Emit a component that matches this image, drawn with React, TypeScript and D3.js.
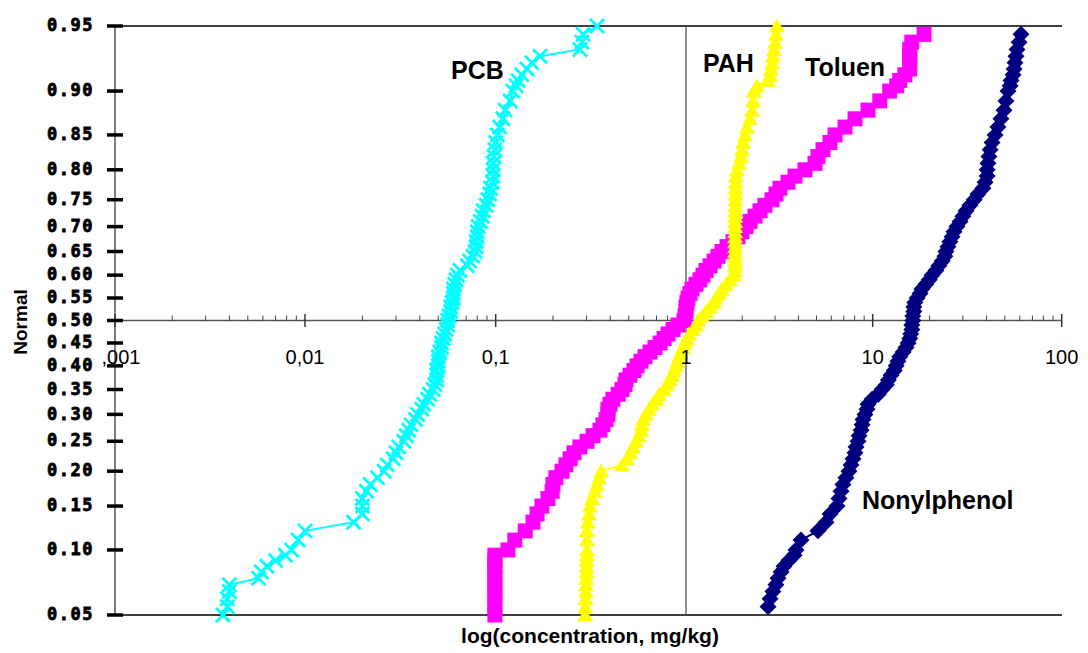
import React, { useRef, useEffect } from 'react';
import * as d3 from 'd3';

// cumulative probability (plotting position) of each ranked sample
const probLevels = [
  0.05, 0.055, 0.06, 0.065, 0.07, 0.075, 0.08, 0.085, 0.09, 0.095,
  0.10, 0.11, 0.12, 0.13, 0.14, 0.15, 0.16, 0.17, 0.18, 0.19,
  0.20, 0.21, 0.22, 0.23, 0.24, 0.25, 0.26, 0.27, 0.28, 0.29,
  0.30, 0.31, 0.32, 0.33, 0.34, 0.35, 0.36, 0.37, 0.38, 0.39,
  0.40, 0.41, 0.42, 0.43, 0.44, 0.45, 0.46, 0.47, 0.48, 0.49,
  0.50, 0.51, 0.52, 0.53, 0.54, 0.55, 0.56, 0.57, 0.58, 0.59,
  0.60, 0.61, 0.62, 0.63, 0.64, 0.65, 0.66, 0.67, 0.68, 0.69,
  0.70, 0.71, 0.72, 0.73, 0.74, 0.75, 0.76, 0.77, 0.78, 0.79,
  0.80, 0.81, 0.82, 0.83, 0.84, 0.85, 0.86, 0.87, 0.88, 0.89,
  0.90, 0.905, 0.91, 0.915, 0.92, 0.925, 0.93, 0.935, 0.94, 0.945, 0.95,
];

// concentrations, mg/kg (null = no sample at that level)
const nonylphenol = [
  null, 2.75, 2.82, 2.92, 3.03, 3.11, 3.23, 3.35, 3.56, 3.79,
  3.88, 4.13, 5.09, 5.62, 5.91, 6.44, 6.60, 6.77, 6.93, 7.19,
  7.46, 7.65, 7.84, 8.04, 8.14, 8.34, 8.45, 8.66, 8.77, 8.87,
  9.09, 9.32, 9.44, 9.92, 10.7, 11.2, 11.8, 12.1, 12.5, 13.0,
  13.3, 13.6, 13.9, 14.5, 15.0, 15.4, 15.7, 15.9, 16.1, 16.1,
  16.3, 16.3, 16.5, 16.5, 16.7, 17.2, 17.8, 18.2, 19.1, 19.9,
  20.6, 21.6, 22.4, 23.3, 24.1, 24.4, 25.0, 25.6, 26.3, 26.9,
  27.9, 29.0, 30.0, 31.2, 32.7, 34.4, 36.1, 38.3, 39.3, 40.3,
  40.3, 40.7, 41.2, 41.8, 42.8, 44.4, 46.0, 47.7, 49.5, 50.7,
  52.0, 53.3, 53.9, 55.3, 56.0, 56.6, 57.3, 58.0, 59.5, 60.9, null,
];

const toluen = [
  0.099, 0.099, 0.099, 0.099, 0.099, 0.099, 0.099, 0.099, 0.099, 0.099,
  0.116, 0.126, 0.143, 0.157, 0.165, 0.175, 0.188, 0.198, 0.200, 0.207,
  0.223, 0.234, 0.246, 0.258, 0.277, 0.302, 0.325, 0.353, 0.366, 0.380,
  0.389, 0.389, 0.399, 0.413, 0.440, 0.461, 0.478, 0.484, 0.508, 0.533,
  0.553, 0.580, 0.609, 0.647, 0.687, 0.731, 0.767, 0.805, 0.855, 0.908,
  0.977, 0.988, 1.000, 1.000, 1.012, 1.025, 1.050, 1.077, 1.131, 1.189,
  1.233, 1.280, 1.345, 1.413, 1.484, 1.559, 1.658, 1.786, 1.899, 1.995,
  2.096, 2.202, 2.342, 2.491, 2.649, 2.888, 3.034, 3.188, 3.518, 3.835,
  4.339, 4.909, 5.093, 5.417, 5.906, 6.284, 7.107, 8.04, 9.44, 10.9,
  12.3, 13.4, 13.9, 14.8, 15.7, 15.7, 15.7, 15.7, 16.1, 18.7, null,
];

const pah = [
  0.295, 0.296, 0.297, 0.298, 0.298, 0.299, 0.300, 0.300, 0.300, 0.301,
  0.302, 0.302, 0.302, 0.305, 0.309, 0.313, 0.321, 0.332, 0.341, 0.349,
  0.358, 0.461, 0.490, 0.508, 0.526, 0.546, 0.566, 0.580, 0.587, 0.594,
  0.616, 0.639, 0.663, 0.704, 0.721, 0.766, 0.794, 0.824, 0.844, 0.865,
  0.886, 0.902, 0.919, 0.942, 0.964, 0.988, 1.012, 1.038, 1.090, 1.131,
  1.160, 1.218, 1.280, 1.345, 1.413, 1.448, 1.503, 1.559, 1.637, 1.721,
  1.807, 1.830, 1.830, 1.830, 1.830, 1.832, 1.832, 1.832, 1.834, 1.834,
  1.834, 1.836, 1.836, 1.836, 1.838, 1.838, 1.840, 1.842, 1.846, 1.853,
  1.876, 1.922, 1.970, 1.995, 2.020, 2.070, 2.120, 2.200, 2.260, 2.290,
  2.310, 2.400, 2.750, 2.820, 2.850, 2.890, 2.920, 2.960, 3.000, 3.030, 3.070,
];

const pcb = [
  0.0037, 0.0039, 0.0039, 0.0040, 0.0040, 0.0057, 0.0059, 0.0063, 0.0070, 0.0079,
  0.0085, 0.0092, 0.0100, 0.018, 0.020, 0.020, 0.020, 0.021, 0.022, 0.024,
  0.026, 0.027, 0.029, 0.030, 0.031, 0.033, 0.034, 0.035, 0.036, 0.038,
  0.039, 0.041, 0.042, 0.044, 0.045, 0.047, 0.048, 0.049, 0.049, 0.049,
  0.050, 0.050, 0.050, 0.051, 0.052, 0.052, 0.053, 0.054, 0.055, 0.056,
  0.056, 0.057, 0.058, 0.058, 0.059, 0.060, 0.060, 0.060, 0.061, 0.062,
  0.063, 0.065, 0.071, 0.073, 0.076, 0.078, 0.079, 0.079, 0.080, 0.080,
  0.081, 0.083, 0.085, 0.086, 0.089, 0.091, 0.093, 0.094, 0.096, 0.097,
  0.097, 0.097, 0.098, 0.099, 0.100, 0.102, 0.105, 0.109, 0.112, 0.119,
  0.123, 0.128, 0.131, 0.137, 0.146, 0.155, 0.171, 0.277, 0.284, 0.288, 0.341,
];

const yTicks = [
  0.05, 0.10, 0.15, 0.20, 0.25, 0.30, 0.35, 0.40, 0.45, 0.50,
  0.55, 0.60, 0.65, 0.70, 0.75, 0.80, 0.85, 0.90, 0.95,
];
const xTickValues = [0.001, 0.01, 0.1, 1, 10, 100];
const xTickLabels = [',001', '0,01', '0,1', '1', '10', '100'];

const series = [
  { name: 'Nonylphenol', values: nonylphenol, color: '#000080', marker: 'diamond' },
  { name: 'Toluen', values: toluen, color: '#FF00FF', marker: 'square' },
  { name: 'PAH', values: pah, color: '#FFFF00', marker: 'triangle' },
  { name: 'PCB', values: pcb, color: '#00FFFF', marker: 'x' },
];

// inverse standard normal CDF (Acklam)
function probit(p: number): number {
  const a = [-39.69683028665376, 220.9460984245205, -275.9285104469687, 138.357751867269, -30.66479806614716, 2.506628277459239];
  const b = [-54.47609879822406, 161.5858368580409, -155.6989798598866, 66.80131188771972, -13.28068155288572];
  const c = [-0.007784894002430293, -0.3223964580411365, -2.400758277161838, -2.549732539343734, 4.374664141464968, 2.938163982698783];
  const d = [0.007784695709041462, 0.3224671290700398, 2.445134137142996, 3.754408661907416];
  const pl = 0.02425;
  if (p < pl) {
    const q = Math.sqrt(-2 * Math.log(p));
    return (((((c[0] * q + c[1]) * q + c[2]) * q + c[3]) * q + c[4]) * q + c[5]) / ((((d[0] * q + d[1]) * q + d[2]) * q + d[3]) * q + 1);
  }
  if (p > 1 - pl) {
    const q = Math.sqrt(-2 * Math.log(1 - p));
    return -(((((c[0] * q + c[1]) * q + c[2]) * q + c[3]) * q + c[4]) * q + c[5]) / ((((d[0] * q + d[1]) * q + d[2]) * q + d[3]) * q + 1);
  }
  const q = p - 0.5;
  const r = q * q;
  return (((((a[0] * r + a[1]) * r + a[2]) * r + a[3]) * r + a[4]) * r + a[5]) * q / (((((b[0] * r + b[1]) * r + b[2]) * r + b[3]) * r + b[4]) * r + 1);
}

const App = () => {
  const chartRef = useRef<SVGSVGElement>(null);

  useEffect(() => {
    const svg = d3.select(chartRef.current);
    svg.selectAll('*').remove();

    const left = 115;
    const right = 1062;
    const top = 26;
    const bottom = 615;

    // log x, piecewise per decade like the original rendering
    const x = d3.scaleLog()
      .domain(xTickValues)
      .range([115, 305, 495.7, 686, 872.7, 1061.7]);
    const y = d3.scaleLinear()
      .domain([probit(0.05), probit(0.95)])
      .range([bottom, top]);
    const yp = (p: number) => y(probit(p));
    const axisY = yp(0.5);

    const font = "'Liberation Sans', Arial, sans-serif";

    // frame lines top / bottom
    svg.append('line').attr('x1', left).attr('x2', right).attr('y1', top).attr('y2', top)
      .attr('stroke', '#000').attr('stroke-width', 1.5);
    svg.append('line').attr('x1', left).attr('x2', right).attr('y1', bottom).attr('y2', bottom)
      .attr('stroke', '#000').attr('stroke-width', 1.5);

    // vertical line at 1
    svg.append('line').attr('x1', x(1)).attr('x2', x(1)).attr('y1', top).attr('y2', bottom)
      .attr('stroke', '#555').attr('stroke-width', 1.3);

    // y axis line
    svg.append('line').attr('x1', left).attr('x2', left).attr('y1', top).attr('y2', bottom)
      .attr('stroke', '#555').attr('stroke-width', 1.5);

    // x axis
    svg.append('line').attr('x1', left).attr('x2', right).attr('y1', axisY).attr('y2', axisY)
      .attr('stroke', '#555').attr('stroke-width', 1.5);
    const minor: number[] = [];
    xTickValues.slice(0, -1).forEach(dec => {
      for (let k = 2; k <= 9; k++) minor.push(dec * k);
    });
    svg.append('g').selectAll('line').data(minor).enter().append('line')
      .attr('x1', d => x(d)).attr('x2', d => x(d))
      .attr('y1', axisY - 5).attr('y2', axisY)
      .attr('stroke', '#444').attr('stroke-width', 1);
    svg.append('g').selectAll('line').data(xTickValues).enter().append('line')
      .attr('x1', d => x(d)).attr('x2', d => x(d))
      .attr('y1', axisY - 6.5).attr('y2', axisY + 6.5)
      .attr('stroke', '#333').attr('stroke-width', 1.5);

    // series
    const line = d3.line<{ p: number; v: number }>()
      .x(d => x(d.v))
      .y(d => yp(d.p));

    series.forEach(s => {
      const pts = probLevels
        .map((p, i) => ({ p, v: s.values[i] as number }))
        .filter(d => d.v != null);
      const g = svg.append('g');
      g.append('path').datum(pts)
        .attr('d', line)
        .attr('fill', 'none')
        .attr('stroke', s.color)
        .attr('stroke-width', 2);

      if (s.marker === 'square') {
        g.selectAll('rect').data(pts).enter().append('rect')
          .attr('x', d => x(d.v) - 7.5)
          .attr('y', d => yp(d.p) - 7.5)
          .attr('width', 15)
          .attr('height', 15)
          .attr('fill', s.color);
      } else if (s.marker === 'x') {
        g.selectAll('.mk').data(pts).enter().append('path')
          .attr('class', 'mk')
          .attr('transform', d => `translate(${x(d.v)},${yp(d.p)})`)
          .attr('d', 'M-7,-7L7,7M-7,7L7,-7')
          .attr('stroke', s.color)
          .attr('stroke-width', 2.8)
          .attr('fill', 'none');
      } else {
        const shape = s.marker === 'triangle'
          ? 'M0,-7.5L8,6.5L-8,6.5Z'
          : 'M0,-8.5L8.5,0L0,8.5L-8.5,0Z';
        g.selectAll('.mk').data(pts).enter().append('path')
          .attr('class', 'mk')
          .attr('transform', d => `translate(${x(d.v)},${yp(d.p)})`)
          .attr('d', shape)
          .attr('fill', s.color);
      }
    });

    // x tick labels
    svg.append('g').selectAll('text').data(xTickValues).enter().append('text')
      .attr('x', (d, i) => (i === 0 ? x(d) + 6 : x(d)))
      .attr('y', 364)
      .attr('text-anchor', 'middle')
      .style('font-family', font)
      .style('font-size', '20px')
      .attr('fill', '#000')
      .text((d, i) => xTickLabels[i]);

    // y ticks + labels
    svg.append('g').selectAll('line').data(yTicks).enter().append('line')
      .attr('x1', left - 8).attr('x2', left + 8)
      .attr('y1', d => yp(d)).attr('y2', d => yp(d))
      .attr('stroke', '#000').attr('stroke-width', 3.5);
    svg.append('g').selectAll('text').data(yTicks).enter().append('text')
      .attr('x', 94)
      .attr('y', d => yp(d) - 1)
      .attr('dy', '0.36em')
      .attr('text-anchor', 'end')
      .style('font-family', "'DejaVu Sans Mono', monospace")
      .style('font-weight', 'bold')
      .style('font-size', '17px')
      .style('letter-spacing', '1.5px')
      .attr('fill', '#000')
      .attr('stroke', '#000')
      .attr('stroke-width', 0.8)
      .text(d => d3.format('.2f')(d));

    // series labels
    const labelPos: Record<string, [number, number]> = {
      PCB: [451, 79],
      PAH: [703, 72],
      Toluen: [805, 76],
      Nonylphenol: [862, 509],
    };
    series.forEach(s => {
      const [lx, ly] = labelPos[s.name];
      svg.append('text')
        .attr('x', lx).attr('y', ly)
        .style('font-family', font)
        .style('font-weight', 'bold')
        .style('font-size', '25px')
        .attr('fill', '#000')
        .text(s.name);
    });

    // axis titles
    svg.append('text')
      .attr('transform', 'translate(27,322) rotate(-90)')
      .attr('text-anchor', 'middle')
      .style('font-family', font)
      .style('font-weight', 'bold')
      .style('font-size', '19px')
      .text('Normal');
    svg.append('text')
      .attr('x', 590).attr('y', 643)
      .attr('text-anchor', 'middle')
      .style('font-family', font)
      .style('font-weight', 'bold')
      .style('font-size', '21px')
      .text('log(concentration, mg/kg)');
  }, []);

  return (
    <svg
      ref={chartRef}
      width={1088}
      height={653}
      style={{ position: 'absolute', left: 0, top: 0, background: '#fff' }}
    ></svg>
  );
};

export default App;
